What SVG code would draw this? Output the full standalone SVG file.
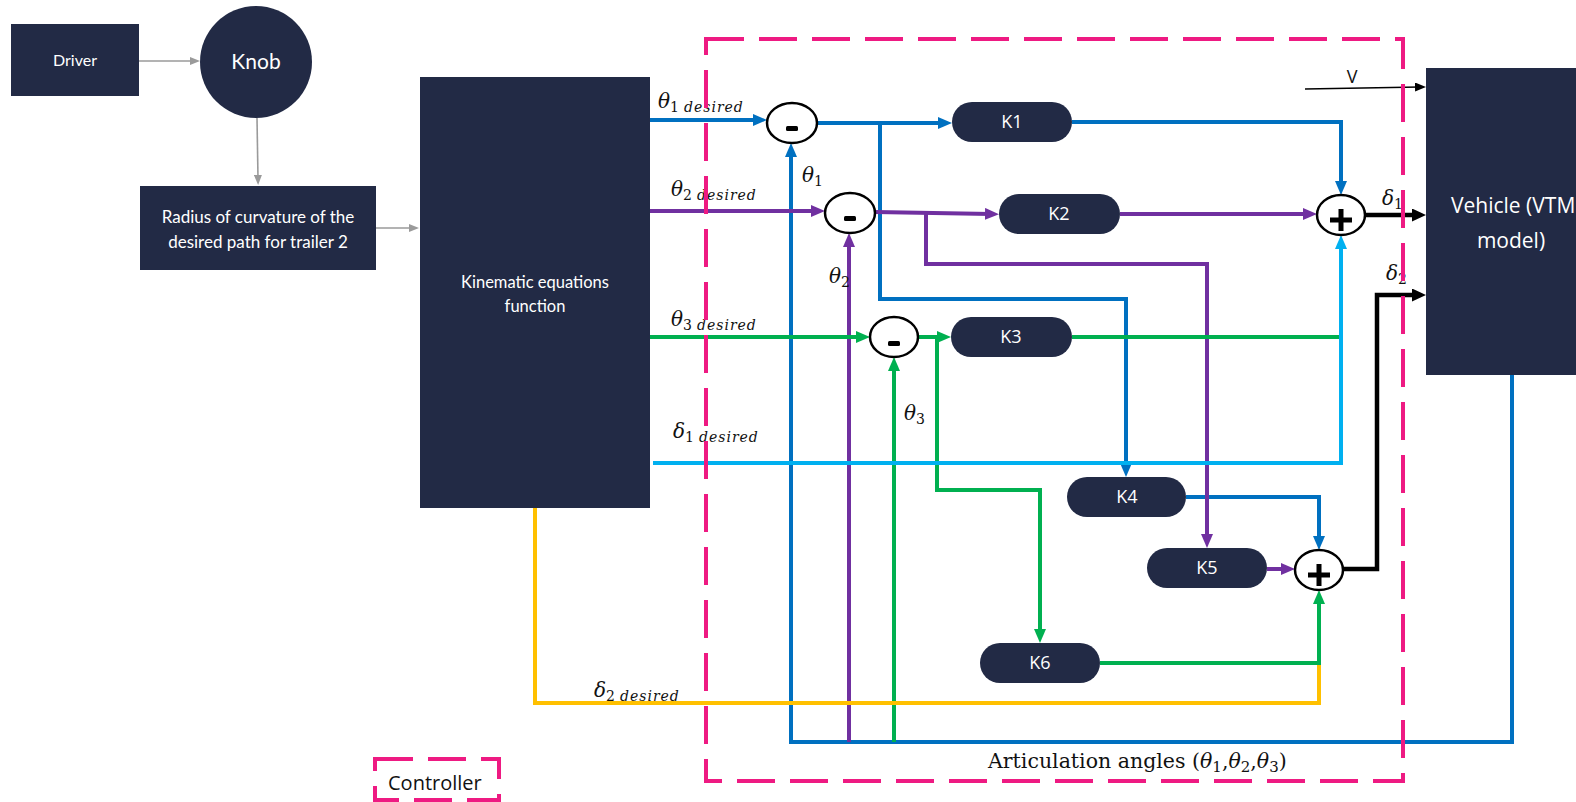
<svg xmlns="http://www.w3.org/2000/svg" width="1576" height="802" viewBox="0 0 1576 802">
<style>
.box{fill:#222A45}
.lbl{fill:#fff;font-family:Lato,"Open Sans",sans-serif;text-anchor:middle}
.klbl{fill:#fff;font-family:"Open Sans",sans-serif;font-size:18px;text-anchor:middle}
.sum{fill:#fff;stroke:#000;stroke-width:2.5}
.c{fill:none;stroke-width:4;stroke-linejoin:miter}
.gray{fill:none;stroke:#9A9A9A;stroke-width:1.6}
.blue{stroke:#0070C0}
.purple{stroke:#7030A0}
.green{stroke:#00B050}
.cyan{stroke:#00B0F0}
.yellow{stroke:#FFC000}
.black{stroke:#000;stroke-width:4.5}
.math{font-family:"DejaVu Serif",serif;font-style:italic;font-size:20px;fill:#111}
.sub{font-size:14px;font-style:normal}
.subi{font-size:14px;font-style:italic;letter-spacing:1px}
.pink{fill:none;stroke:#EE1A82;stroke-width:4;stroke-dasharray:38 15}
.txt{font-family:"Open Sans",sans-serif;fill:#111}
</style>
<defs>
<marker id="aBlue" viewBox="0 0 14 12" markerWidth="14" markerHeight="12" refX="6" refY="6" orient="auto" markerUnits="userSpaceOnUse"><path d="M0,0L14,6L0,12z" fill="#0070C0"/></marker>
<marker id="aPurple" viewBox="0 0 14 12" markerWidth="14" markerHeight="12" refX="6" refY="6" orient="auto" markerUnits="userSpaceOnUse"><path d="M0,0L14,6L0,12z" fill="#7030A0"/></marker>
<marker id="aGreen" viewBox="0 0 14 12" markerWidth="14" markerHeight="12" refX="6" refY="6" orient="auto" markerUnits="userSpaceOnUse"><path d="M0,0L14,6L0,12z" fill="#00B050"/></marker>
<marker id="aCyan" viewBox="0 0 14 12" markerWidth="14" markerHeight="12" refX="6" refY="6" orient="auto" markerUnits="userSpaceOnUse"><path d="M0,0L14,6L0,12z" fill="#00B0F0"/></marker>
<marker id="aBlack" viewBox="0 0 14 13" markerWidth="14" markerHeight="13" refX="6" refY="6.5" orient="auto" markerUnits="userSpaceOnUse"><path d="M0,0L14,6.5L0,13z" fill="#000"/></marker>
<marker id="aBlackS" viewBox="0 0 11 9" markerWidth="11" markerHeight="9" refX="5" refY="4.5" orient="auto" markerUnits="userSpaceOnUse"><path d="M0,0L11,4.5L0,9z" fill="#000"/></marker>
<marker id="aGray" viewBox="0 0 10 8" markerWidth="10" markerHeight="8" refX="4" refY="4" orient="auto" markerUnits="userSpaceOnUse"><path d="M0,0L10,4L0,8z" fill="#9A9A9A"/></marker>
</defs>
<rect width="1576" height="802" fill="#fff"/>

<g id="connectors">
<path class="gray" d="M139,61H194" marker-end="url(#aGray)"/>
<path class="gray" d="M257,118L258,179" marker-end="url(#aGray)"/>
<path class="gray" d="M376,228H413" marker-end="url(#aGray)"/>

<path class="c blue" d="M1512,375V742H791V151" marker-end="url(#aBlue)"/>
<path class="c purple" d="M849,742V241" marker-end="url(#aPurple)"/>
<path class="c green" d="M894,742V365" marker-end="url(#aGreen)"/>

<path class="c blue" d="M650,120H759" marker-end="url(#aBlue)"/>
<path class="c blue" d="M817,123H944" marker-end="url(#aBlue)"/>
<path class="c blue" d="M880,123V299H1126V469" marker-end="url(#aBlue)"/>
<path class="c blue" d="M1072,122H1341V187" marker-end="url(#aBlue)"/>
<path class="c blue" d="M1186,497H1319V542" marker-end="url(#aBlue)"/>

<path class="c purple" d="M645,211H817" marker-end="url(#aPurple)"/>
<path class="c purple" d="M875,212L991,214" marker-end="url(#aPurple)"/>
<path class="c purple" d="M926,213V264H1207V540" marker-end="url(#aPurple)"/>
<path class="c purple" d="M1120,214H1309" marker-end="url(#aPurple)"/>
<path class="c purple" d="M1267,569H1287" marker-end="url(#aPurple)"/>

<path class="c green" d="M650,337H862" marker-end="url(#aGreen)"/>
<path class="c green" d="M918,337H943" marker-end="url(#aGreen)"/>
<path class="c green" d="M937,337V490H1040V635" marker-end="url(#aGreen)"/>
<path class="c green" d="M1072,337H1340"/>
<path class="c green" d="M1100,663H1319V598" marker-end="url(#aGreen)"/>

<path class="c cyan" d="M653,463H1341V243" marker-end="url(#aCyan)"/>
<path class="c yellow" d="M535,508V703H1319V665"/>

<path class="c black" d="M1365,215H1418" marker-end="url(#aBlack)"/>
<path class="c black" d="M1343,569H1377V295H1418" marker-end="url(#aBlack)"/>
<path fill="none" stroke="#000" stroke-width="1.6" d="M1305,89L1420,87" marker-end="url(#aBlackS)"/>
</g>

<g id="driver"><rect class="box" x="11" y="24" width="128" height="72"/><text class="lbl" x="75" y="66" font-size="16">Driver</text></g>
<g id="knob"><circle class="box" cx="256" cy="62" r="56"/><text class="lbl" x="256" y="69" font-size="21">Knob</text></g>
<g id="radius"><rect class="box" x="140" y="186" width="236" height="84"/><text class="lbl" x="258" y="223" font-size="17">Radius of curvature of the</text><text class="lbl" x="258" y="248" font-size="17">desired path for trailer 2</text></g>
<g id="kinematic"><rect class="box" x="420" y="77" width="230" height="431"/><text class="lbl" x="535" y="288" font-size="16.5">Kinematic equations</text><text class="lbl" x="535" y="312" font-size="16.5">function</text></g>
<g id="vehicle"><rect class="box" x="1426" y="68" width="150" height="307"/><text x="1451" y="213" font-family="Open Sans,sans-serif" font-size="21" fill="#fff">Vehicle (VTM</text><text x="1511" y="248" font-family="Open Sans,sans-serif" font-size="21" fill="#fff" text-anchor="middle">model)</text></g>

<g id="sum1"><ellipse class="sum" cx="792" cy="123" rx="25" ry="20"/><rect x="786" y="126" width="12" height="5" rx="1.5"/></g>
<g id="sum2"><ellipse class="sum" cx="850" cy="213" rx="25" ry="20"/><rect x="844" y="216" width="12" height="5" rx="1.5"/></g>
<g id="sum3"><ellipse class="sum" cx="894" cy="337" rx="24" ry="20"/><rect x="888" y="341" width="12" height="5" rx="1.5"/></g>
<g id="plus1"><ellipse class="sum" cx="1341" cy="215" rx="24" ry="20"/><path d="M1330,220H1352M1341,209V231" stroke="#000" stroke-width="5"/></g>
<g id="plus2"><ellipse class="sum" cx="1319" cy="570" rx="24" ry="20"/><path d="M1308,575H1330M1319,564V586" stroke="#000" stroke-width="5"/></g>

<g id="k1"><rect class="box" x="952" y="102" width="120" height="40" rx="20"/><text class="klbl" x="1012" y="128">K1</text></g>
<g id="k2"><rect class="box" x="999" y="194" width="121" height="40" rx="20"/><text class="klbl" x="1059" y="220">K2</text></g>
<g id="k3"><rect class="box" x="951" y="317" width="121" height="40" rx="20"/><text class="klbl" x="1011" y="343">K3</text></g>
<g id="k4"><rect class="box" x="1067" y="477" width="119" height="40" rx="20"/><text class="klbl" x="1127" y="503">K4</text></g>
<g id="k5"><rect class="box" x="1147" y="548" width="120" height="40" rx="20"/><text class="klbl" x="1207" y="574">K5</text></g>
<g id="k6"><rect class="box" x="980" y="643" width="120" height="40" rx="20"/><text class="klbl" x="1040" y="669">K6</text></g>

<g id="labels">
<text class="math" x="658" y="108">θ<tspan class="sub" dy="4">1</tspan><tspan class="subi" dx="5">desired</tspan></text>
<text class="math" x="671" y="196">θ<tspan class="sub" dy="4">2</tspan><tspan class="subi" dx="5">desired</tspan></text>
<text class="math" x="671" y="326">θ<tspan class="sub" dy="4">3</tspan><tspan class="subi" dx="5">desired</tspan></text>
<text class="math" x="673" y="438">δ<tspan class="sub" dy="4">1</tspan><tspan class="subi" dx="5">desired</tspan></text>
<text class="math" x="594" y="697">δ<tspan class="sub" dy="4">2</tspan><tspan class="subi" dx="5">desired</tspan></text>
<text class="math" x="802" y="182">θ<tspan class="sub" dy="4">1</tspan></text>
<text class="math" x="829" y="283">θ<tspan class="sub" dy="4">2</tspan></text>
<text class="math" x="904" y="420">θ<tspan class="sub" dy="4">3</tspan></text>
<text class="math" x="1382" y="205">δ<tspan class="sub" dy="4">1</tspan></text>
<text class="math" x="1386" y="280">δ<tspan class="sub" dy="4">2</tspan></text>
<text class="txt" x="1352" y="83" font-size="18" text-anchor="middle">V</text>
<text x="988" y="768" font-family="DejaVu Serif,serif" font-size="20.5" fill="#111">Articulation angles (<tspan font-style="italic">θ</tspan><tspan font-size="15" dy="4">1</tspan><tspan dy="-4">,</tspan><tspan font-style="italic">θ</tspan><tspan font-size="15" dy="4">2</tspan><tspan dy="-4">,</tspan><tspan font-style="italic">θ</tspan><tspan font-size="15" dy="4">3</tspan><tspan dy="-4">)</tspan></text>
</g>

<g id="controller-boundary"><rect class="pink" x="706" y="39" width="697" height="742"/></g>
<g id="legend"><rect class="pink" x="375" y="759" width="124" height="41"/><text class="txt" x="388" y="790" font-size="20">Controller</text></g>
</svg>
